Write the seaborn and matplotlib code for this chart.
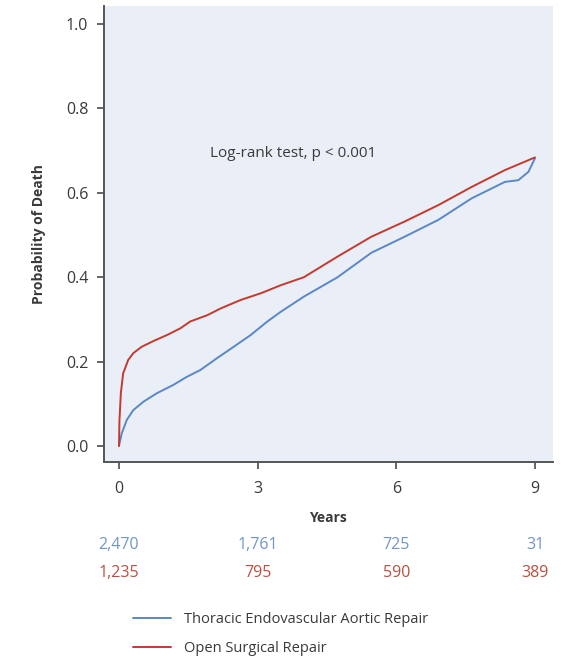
import matplotlib
matplotlib.use("Agg")
import matplotlib.pyplot as plt
from matplotlib.transforms import blended_transform_factory
import seaborn as sns
import pandas as pd

# values
tevar_years = [0, 0.06, 0.17, 0.31, 0.53, 0.82, 1.18, 1.47, 1.76, 2.12, 2.48, 2.85,
               3.21, 3.5, 4.0, 4.73, 5.46, 6.18, 6.91, 7.63, 8.35, 8.64, 8.86, 9.0]
tevar_prob = [0.0, 0.03, 0.062, 0.085, 0.105, 0.125, 0.145, 0.164, 0.18, 0.208, 0.235, 0.263,
              0.295, 0.318, 0.354, 0.40, 0.458, 0.496, 0.536, 0.587, 0.626, 0.63, 0.65, 0.682]
open_years = [0, 0.01, 0.04, 0.09, 0.2, 0.31, 0.49, 0.75, 1.04, 1.33, 1.54, 1.91,
              2.2, 2.63, 3.07, 3.5, 4.0, 4.73, 5.46, 6.18, 6.91, 7.63, 8.35, 9.0]
open_prob = [0.0, 0.06, 0.125, 0.172, 0.204, 0.22, 0.235, 0.249, 0.263, 0.279, 0.295, 0.31,
             0.326, 0.346, 0.362, 0.381, 0.40, 0.449, 0.496, 0.532, 0.571, 0.614, 0.654, 0.684]

risk_years = [0, 3, 6, 9]
tevar_at_risk = ['2,470', '1,761', '725', '31']
open_at_risk = ['1,235', '795', '590', '389']

TEVAR = 'Thoracic Endovascular Aortic Repair'
OPEN = 'Open Surgical Repair'
BLUE = '#5b87c6'
RED = '#c6392e'
BLUE_TXT = '#7096c8'
RED_TXT = '#b9503f'
DARK = '#3a3a3a'

df = pd.concat([
  pd.DataFrame({'Years': tevar_years, 'Prob': tevar_prob, 'Group': TEVAR}),
  pd.DataFrame({'Years': open_years, 'Prob': open_prob, 'Group': OPEN}),
])

sns.set_style('ticks')
plt.rcParams['font.family'] = ['Open Sans', 'DejaVu Sans']

fig = plt.figure(figsize=(5.61, 6.58), dpi=100)
ax = fig.add_axes([0.1845, 0.2979, 0.8012, 0.6930])
ax.set_facecolor('#e9eef7')

sns.lineplot(data=df, x='Years', y='Prob', hue='Group', palette={TEVAR: BLUE, OPEN: RED},
             linewidth=1.4, ax=ax, estimator=None, sort=False)

ax.set_xlim(-0.335, 9.39)
ax.set_ylim(-0.038, 1.043)
ax.set_xticks([0, 3, 6, 9])
ax.set_yticks([0.0, 0.2, 0.4, 0.6, 0.8, 1.0])
ax.set_yticklabels(['0.0', '0.2', '0.4', '0.6', '0.8', '1.0'])
ax.tick_params(axis='both', colors=DARK, labelsize=11.5, length=5, width=1.1, pad=6)
ax.tick_params(axis='x', pad=9)
for side in ['top', 'right']:
  ax.spines[side].set_visible(False)
for side in ['left', 'bottom']:
  ax.spines[side].set_color('#555555')
  ax.spines[side].set_linewidth(1.4)

ax.set_xlabel('Years', fontsize=10, fontweight='bold', color=DARK, labelpad=10)
ax.set_ylabel('Probability of Death', fontsize=10, fontweight='bold', color=DARK, labelpad=14)

ax.text(3.77, 0.694, 'Log-rank test, p < 0.001', ha='center', va='center',
        fontsize=11, color=DARK)

# numbers at risk below the axis
trans = blended_transform_factory(ax.transData, fig.transFigure)
for yr, a, b in zip(risk_years, tevar_at_risk, open_at_risk):
  ax.text(yr, 1 - 545 / 658, a, transform=trans, ha='center', va='center',
          fontsize=11.5, color=BLUE_TXT)
  ax.text(yr, 1 - 573 / 658, b, transform=trans, ha='center', va='center',
          fontsize=11.5, color=RED_TXT)

handles, labels = ax.get_legend_handles_labels()
ax.get_legend().remove()
fig.legend(handles, labels, loc='upper left', bbox_to_anchor=(0.2364, 1 - 612 / 658),
           frameon=False, fontsize=10.5, handlelength=2.6, handletextpad=0.9,
           labelspacing=0.95, labelcolor=DARK, borderaxespad=0, borderpad=0)

fig.savefig('out.png', dpi=100)
